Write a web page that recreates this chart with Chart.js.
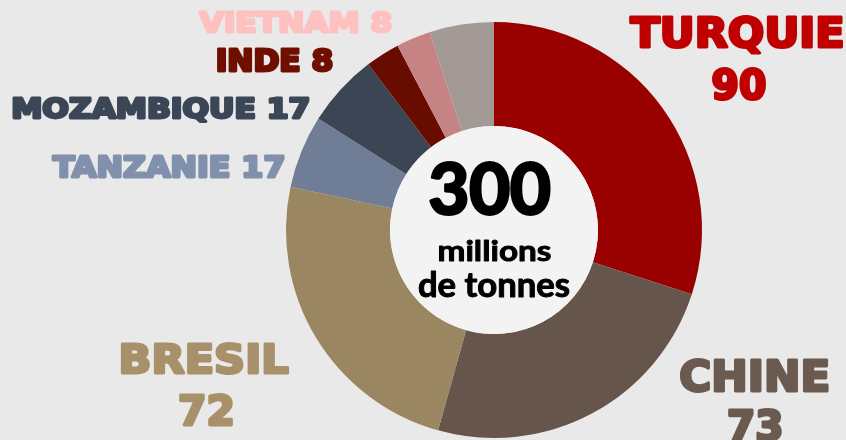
<!DOCTYPE html>
<html>
<head>
<meta charset="utf-8">
<script src="https://cdn.jsdelivr.net/npm/chart.js@4.4.1/dist/chart.umd.min.js"></script>
<style>
  html, body { margin: 0; padding: 0; background: #e9e9e9; }
  #chart { display: block; }
</style>
</head>
<body>
<canvas id="chart" width="846" height="440"></canvas>
<script>
// production par pays, millions de tonnes
const countries = ['TURQUIE', 'CHINE', 'BRESIL', 'TANZANIE', 'MOZAMBIQUE', 'INDE', 'VIETNAM', 'AUTRES'];
const values = [90, 73, 72, 17, 17, 8, 8, 15];
const sliceColors = ['#990000', '#66554b', '#9a8661', '#6f7d96', '#3b4553', '#690c00', '#c58383', '#a39a96'];
const labelColors = ['#c00000', '#6b5a50', '#a8916a', '#8190ac', '#3b4756', '#700e00', '#ffc0c0', null];
const totalLabel = '300';
const unitLines = ['millions', 'de tonnes'];

// where each country label sits (text lines, centre x, baseline, cap height, width)
const labelLayout = [
  [[countries[0], 736, 48, 33, 214], [String(values[0]), 739, 100, 33, 54]],
  [[countries[1], 754, 392, 35, 149], [String(values[1]), 755, 441, 33, 54]],
  [[countries[2], 205, 374, 32, 168], [String(values[2]), 206, 426, 33, 54]],
  [[countries[3] + ' ' + values[3], 168, 178, 24, 233]],
  [[countries[4] + ' ' + values[4], 161, 119, 23, 297]],
  [[countries[5] + ' ' + values[5], 275, 72, 25, 116]],
  [[countries[6] + ' ' + values[6], 295, 33, 23, 194]],
  []
];

// squeeze text into a box; bold = extra stroke in px to fatten the glyphs
function fitText(ctx, text, cx, baseline, capH, width, color, font, bold) {
  ctx.save();
  ctx.font = font;
  ctx.textAlign = 'left';
  ctx.textBaseline = 'alphabetic';
  const m = ctx.measureText(text);
  const w = m.actualBoundingBoxLeft + m.actualBoundingBoxRight;
  const sx = (width - bold) / w;
  const sy = (capH - bold) / m.actualBoundingBoxAscent;
  ctx.translate(cx - (width - bold) / 2, baseline - bold / 2);
  ctx.scale(sx, sy);
  ctx.fillStyle = color;
  ctx.fillText(text, m.actualBoundingBoxLeft, 0);
  if (bold > 0) {
    ctx.strokeStyle = color;
    ctx.lineJoin = 'round';
    ctx.lineWidth = bold / Math.sqrt(sx * sy);
    ctx.strokeText(text, m.actualBoundingBoxLeft, 0);
  }
  ctx.restore();
}

const labelsPlugin = {
  id: 'labels',
  afterDatasetsDraw(chart) {
    const ctx = chart.ctx;
    const arc = chart.getDatasetMeta(0).data[0];
    // centre disc
    ctx.save();
    ctx.beginPath();
    ctx.arc(arc.x, arc.y, arc.innerRadius, 0, Math.PI * 2);
    ctx.fillStyle = '#f3f3f3';
    ctx.fill();
    ctx.restore();

    fitText(ctx, totalLabel, 490, 215, 54, 122, '#000', 'bold 100px Lato, "DejaVu Sans"', 3);
    fitText(ctx, unitLines[0], 495, 261, 22, 112, '#000', 'bold 100px Lato, "DejaVu Sans"', 1);
    fitText(ctx, unitLines[1], 494, 297, 26, 151, '#000', 'bold 100px Lato, "DejaVu Sans"', 1);

    labelLayout.forEach((lines, i) => {
      lines.forEach(l => {
        fitText(ctx, l[0], l[1], l[2], l[3], l[4], labelColors[i], 'bold 100px "DejaVu Sans"', 3);
      });
    });
  }
};

new Chart(document.getElementById('chart'), {
  type: 'doughnut',
  data: {
    labels: countries,
    datasets: [{
      data: values,
      backgroundColor: sliceColors,
      borderWidth: 0
    }]
  },
  options: {
    responsive: false,
    animation: false,
    cutout: '50%',
    layout: { padding: { left: 286, right: 144, top: 22, bottom: 2 } },
    plugins: {
      legend: { display: false },
      tooltip: { enabled: false }
    }
  },
  plugins: [labelsPlugin]
});
</script>
</body>
</html>
